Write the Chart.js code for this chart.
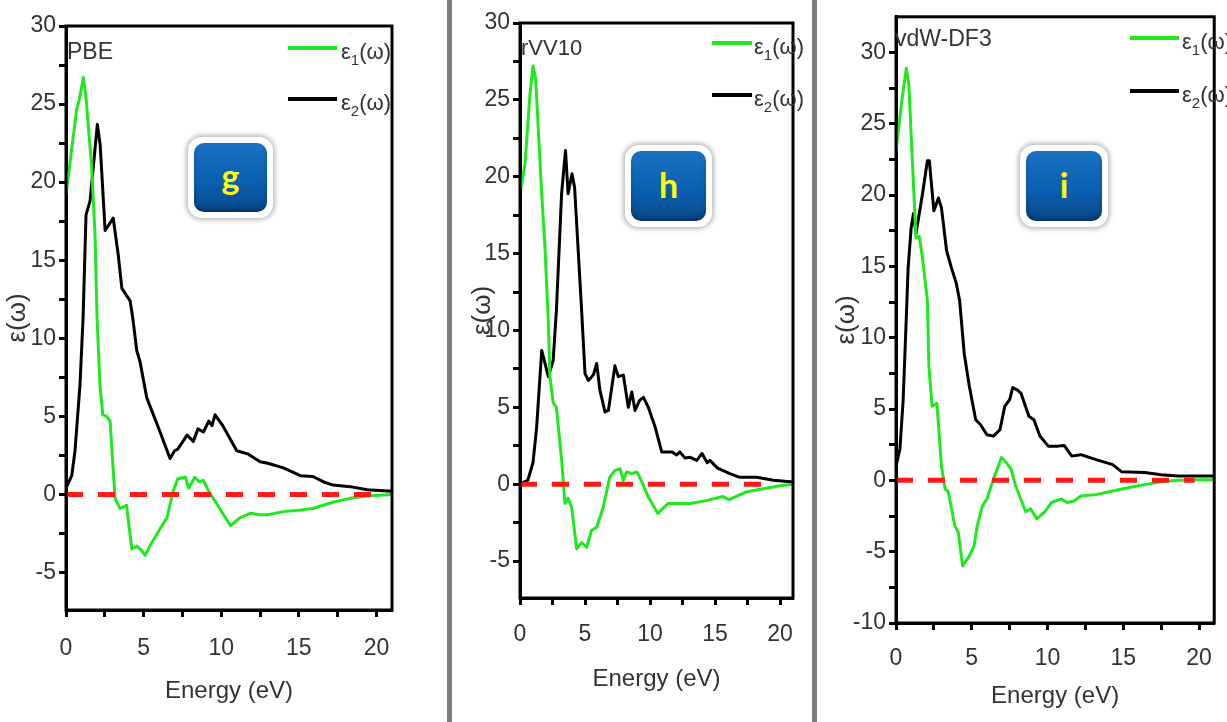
<!DOCTYPE html>
<html>
<head>
<meta charset="utf-8">
<script src="https://cdn.jsdelivr.net/npm/chart.js@4.4.1/dist/chart.umd.min.js"></script>
<style>
  html, body { margin: 0; padding: 0; background: #fff; }
  body { width: 1227px; height: 722px; position: relative; overflow: hidden;
         font-family: 'Liberation Sans Narrow', 'Arial Narrow', 'Liberation Sans', Arial, sans-serif; color: #333; }
  canvas { position: absolute; top: 0; }
  .sep { position: absolute; top: 0; height: 722px; width: 5px; background: #7c7c7c; }
  .tag { position: absolute; font-size: 23px; line-height: 23px; white-space: nowrap; }
  .ln { position: absolute; height: 4px; }
  .lg { position: absolute; font-size: 22px; line-height: 22px; white-space: nowrap; }
  .lg sub { font-size: 15px; vertical-align: -6px; line-height: 0; }
  .badge { position: absolute; background: #fff; border-radius: 14px;
           box-shadow: 0 0 5px 2px rgba(0,0,0,0.28); }
  .badge div { position: absolute; left: 6px; top: 6px; right: 6px; bottom: 6px; border-radius: 10px;
               background: linear-gradient(#1b71c2, #0a60b0 55%, #074a8c);
               box-shadow: inset 0 -4px 4px rgba(0,0,0,0.25);
               color: #ffff00; font: bold 34px Lato, 'Open Sans', sans-serif;
               display: flex; align-items: center; justify-content: center; padding-bottom: 4px; box-sizing: border-box; }
</style>
</head>
<body>
<canvas id="pbe" width="446" height="722" style="left:0"></canvas>
<canvas id="rvv" width="359" height="722" style="left:453px"></canvas>
<canvas id="vdw" width="405" height="722" style="left:822px"></canvas>

<div class="sep" style="left:447px"></div>
<div class="sep" style="left:812px"></div>

<div class="tag" style="left:67px;top:40px">PBE</div>
<div class="tag" style="left:521px;top:36px;font-size:22px">rVV10</div>
<div class="tag" style="left:895px;top:27px">vdW-DF3</div>

<div class="ln" style="left:288px;top:46px;width:49px;background:#1fe81f"></div>
<div class="ln" style="left:288px;top:97px;width:49px;background:#000"></div>
<div class="lg" style="left:341px;top:41px">ε<sub>1</sub>(ω)</div>
<div class="lg" style="left:341px;top:92px">ε<sub>2</sub>(ω)</div>

<div class="ln" style="left:712px;top:41px;width:40px;background:#1fe81f"></div>
<div class="ln" style="left:712px;top:93px;width:40px;background:#000"></div>
<div class="lg" style="left:754px;top:36px">ε<sub>1</sub>(ω)</div>
<div class="lg" style="left:754px;top:88px">ε<sub>2</sub>(ω)</div>

<div class="ln" style="left:1130px;top:36px;width:49px;background:#1fe81f"></div>
<div class="ln" style="left:1130px;top:89px;width:49px;background:#000"></div>
<div class="lg" style="left:1182px;top:31px">ε<sub>1</sub>(ω)</div>
<div class="lg" style="left:1182px;top:84px">ε<sub>2</sub>(ω)</div>

<div class="badge" style="left:188px;top:137px;width:85px;height:81px"><div>g</div></div>
<div class="badge" style="left:625px;top:145px;width:87px;height:82px"><div>h</div></div>
<div class="badge" style="left:1020px;top:145px;width:88px;height:82px"><div>i</div></div>

<script>
// tick positions (major every 5, minor every 2.5)
const xTicks = [0, 2.5, 5, 7.5, 10, 12.5, 15, 17.5, 20];
const yTicksShort = [-5, -2.5, 0, 2.5, 5, 7.5, 10, 12.5, 15, 17.5, 20, 22.5, 25, 27.5, 30];
const yTicksLong = [-10, -7.5, -5, -2.5, 0, 2.5, 5, 7.5, 10, 12.5, 15, 17.5, 20, 22.5, 25, 27.5, 30];

// dashed zero reference
const zeroX = [0, 19.7];
const zeroY = [0, 0];

// PBE
const pbeE1x = [0, 0.69, 0.84, 1.12, 1.29, 1.66, 1.87, 2.0, 2.19, 2.37, 2.62, 2.84, 3.16, 3.48, 3.9, 4.24, 4.56, 4.88, 5.1, 5.4, 6.06, 6.5, 6.9, 7.2, 7.7, 7.9, 8.3, 8.6, 8.85, 9.2, 10.6, 11.2, 11.9, 12.5, 13, 14, 15.1, 15.9, 17.2, 18.3, 19.4, 21];
const pbeE1y = [19.2, 24.7, 25.2, 26.7, 25.4, 20.9, 16.6, 11.3, 7.0, 5.1, 5.0, 4.7, -0.25, -0.9, -0.7, -3.5, -3.3, -3.6, -3.9, -3.3, -2.2, -1.5, 0.2, 1.0, 1.1, 0.4, 1.1, 0.8, 0.9, 0.2, -2.0, -1.5, -1.2, -1.3, -1.3, -1.1, -1.0, -0.9, -0.5, -0.25, -0.1, 0];
const pbeE2x = [0, 0.37, 0.58, 0.9, 1.1, 1.29, 1.55, 2.02, 2.2, 2.52, 3.04, 3.37, 3.6, 4.13, 4.3, 4.56, 4.77, 5.2, 6.06, 6.7, 7.0, 7.2, 7.8, 8.2, 8.5, 8.85, 9.2, 9.4, 9.6, 10.1, 11.0, 11.7, 12.5, 13, 14, 15.1, 15.9, 16.6, 17.2, 18.3, 19.4, 21];
const pbeE2y = [0.4, 1.2, 2.8, 7.0, 11.3, 17.9, 18.8, 23.7, 22.4, 16.9, 17.7, 15.3, 13.2, 12.4, 11.3, 9.2, 8.5, 6.2, 4.0, 2.3, 2.8, 2.9, 3.8, 3.4, 4.2, 4.0, 4.7, 4.4, 5.1, 4.4, 2.8, 2.6, 2.1, 2.0, 1.7, 1.2, 1.15, 0.8, 0.6, 0.5, 0.3, 0.2];

// rVV10
const rvvE1x = [0.08, 0.38, 0.77, 1.0, 1.2, 1.67, 1.92, 2.18, 2.3, 2.55, 2.8, 3.2, 3.46, 3.7, 3.97, 4.36, 4.74, 5.13, 5.5, 5.9, 6.4, 6.9, 7.3, 7.7, 7.95, 8.2, 8.6, 9.0, 9.4, 9.85, 10.6, 11.4, 12.7, 13.1, 14.4, 15.6, 16.1, 17.4, 18.7, 20, 21];
const rvvE1y = [19.3, 20.8, 25.4, 27.2, 26.4, 18.9, 15.4, 10.5, 7.0, 5.3, 5.0, 1.6, -1.25, -0.9, -1.5, -4.2, -3.8, -4.1, -3.0, -2.8, -1.5, 0.45, 0.9, 1.0, 0.26, 0.8, 0.7, 0.8, 0.1, -0.8, -1.9, -1.25, -1.25, -1.25, -1.05, -0.8, -1.0, -0.5, -0.3, -0.1, 0];
const rvvE2x = [0.08, 0.6, 1.0, 1.28, 1.67, 2.18, 2.55, 2.8, 3.2, 3.5, 3.7, 4.0, 4.2, 4.74, 5.0, 5.26, 5.64, 5.9, 6.15, 6.54, 6.8, 7.3, 7.56, 7.95, 8.33, 8.6, 8.85, 9.2, 9.5, 9.87, 10.4, 10.9, 11.7, 12.05, 12.3, 12.7, 13.1, 13.6, 14.0, 14.4, 14.6, 15.2, 16.1, 16.9, 18.2, 19.5, 21];
const rvvE2y = [0.05, 0.26, 1.4, 3.7, 8.7, 7.0, 8.05, 11.3, 18.9, 21.7, 18.9, 20.2, 19.3, 11.3, 7.2, 6.75, 7.1, 7.85, 6.1, 4.7, 4.8, 7.7, 7.0, 7.1, 5.0, 6.0, 4.8, 5.45, 5.65, 5.0, 3.7, 2.1, 2.1, 1.9, 2.1, 1.7, 1.75, 1.55, 2.0, 1.4, 1.55, 1.05, 0.7, 0.45, 0.45, 0.26, 0.15];

// vdW-DF3
const vdwE1x = [0, 0.36, 0.68, 0.85, 1.1, 1.32, 1.53, 1.75, 2.07, 2.17, 2.38, 2.7, 3.0, 3.24, 3.45, 3.88, 4.1, 4.4, 4.84, 5.15, 5.36, 5.7, 6.0, 6.43, 6.96, 7.28, 7.6, 7.9, 8.56, 8.88, 9.3, 9.83, 10.26, 10.9, 11.3, 11.75, 12.2, 13.2, 14.3, 15.4, 16.4, 17.5, 18.6, 20.2, 21];
const vdwE1y = [23.1, 26.4, 28.9, 27.7, 21.9, 17.0, 17.1, 15.6, 12.6, 8.0, 5.2, 5.4, 1.0, -0.6, -0.8, -3.2, -3.6, -6.0, -5.3, -4.6, -3.2, -1.8, -1.3, 0.07, 1.6, 1.25, 0.77, -0.4, -2.2, -2.0, -2.7, -2.2, -1.55, -1.3, -1.55, -1.45, -1.1, -1.0, -0.75, -0.5, -0.3, -0.1, 0, 0.05, 0.05];
const vdwE2x = [0, 0.26, 0.47, 0.68, 0.8, 1.0, 1.15, 1.32, 1.75, 2.07, 2.2, 2.5, 2.8, 3.0, 3.34, 3.66, 3.98, 4.2, 4.5, 4.84, 5.26, 5.58, 6.0, 6.43, 6.86, 7.18, 7.5, 7.7, 8.0, 8.25, 8.77, 9.1, 9.5, 10.05, 10.7, 11.1, 11.6, 12.2, 13.2, 14.3, 14.9, 16.4, 17.5, 18.6, 21];
const vdwE2y = [1.0, 2.2, 5.6, 11.4, 14.9, 17.7, 18.7, 17.3, 20.1, 22.4, 22.4, 18.9, 19.8, 19.1, 16.1, 14.9, 13.8, 12.6, 8.9, 6.6, 4.25, 3.9, 3.2, 3.1, 3.55, 5.2, 5.65, 6.5, 6.35, 6.1, 4.5, 4.25, 3.1, 2.4, 2.4, 2.45, 1.7, 1.8, 1.45, 1.1, 0.6, 0.55, 0.4, 0.3, 0.3];

const FONT = "'Liberation Sans Narrow', 'Arial Narrow', 'Liberation Sans', Arial, sans-serif";

const toPts = (xs, ys) => xs.map((x, i) => ({ x: x, y: ys[i] }));

// box round the plot area (top and right sides too)
const frame = {
    id: 'frame',
    afterDraw(chart) {
        const { ctx, chartArea: a } = chart;
        ctx.save();
        ctx.strokeStyle = '#000';
        ctx.lineWidth = 3;
        ctx.strokeRect(a.left, a.top, a.right - a.left, a.bottom - a.top);
        ctx.restore();
    }
};

function makePanel(id, p) {
    const ctx = document.getElementById(id).getContext('2d');
    return new Chart(ctx, {
        type: 'line',
        data: {
            datasets: [
                { label: 'zero', data: toPts(zeroX, zeroY), borderColor: '#ff1a1a', borderWidth: 5, borderDash: [17, 15] },
                { label: 'ε1(ω)', data: toPts(p.e1x, p.e1y), borderColor: '#1fe81f', borderWidth: 3 },
                { label: 'ε2(ω)', data: toPts(p.e2x, p.e2y), borderColor: '#000', borderWidth: 3 }
            ]
        },
        options: {
            responsive: false,
            animation: false,
            layout: { padding: { left: 0, right: p.padRight, top: p.padTop, bottom: 0 } },
            plugins: { legend: { display: false }, tooltip: { enabled: false } },
            elements: { point: { radius: 0 }, line: { tension: 0, borderJoinStyle: 'round' } },
            scales: {
                x: {
                    type: 'linear', min: 0, max: 21,
                    afterBuildTicks: s => { s.ticks = xTicks.map(v => ({ value: v })); },
                    afterFit: s => { s.height = p.xAxisH; },
                    grid: { drawOnChartArea: false, tickLength: 7, tickWidth: 3, tickColor: '#000' },
                    border: { color: '#000', width: 3 },
                    ticks: {
                        autoSkip: false, maxRotation: 0, padding: p.xTickPad, color: '#333',
                        font: { family: FONT, size: 23 },
                        callback: v => (v % 5 === 0 ? String(v) : '')
                    },
                    title: { display: true, text: 'Energy (eV)', color: '#333',
                             font: { family: FONT, size: 24 }, padding: { top: 0, bottom: p.xTitlePad } }
                },
                y: {
                    type: 'linear', min: p.yMin, max: p.yMax,
                    afterBuildTicks: s => { s.ticks = p.yTicks.map(v => ({ value: v })); },
                    afterFit: s => { s.width = p.yAxisW; },
                    grid: { drawOnChartArea: false, tickLength: 7, tickWidth: 3, tickColor: '#000' },
                    border: { color: '#000', width: 3 },
                    ticks: {
                        autoSkip: false, padding: 3, color: '#333',
                        font: { family: FONT, size: 23 },
                        callback: v => (v % 5 === 0 ? String(v) : '')
                    },
                    title: { display: true, text: 'ε(ω)', color: '#333',
                             font: { family: FONT, size: 26 }, padding: { top: p.yTitlePad, bottom: 0 } }
                }
            }
        },
        plugins: [frame]
    });
}

makePanel('pbe', {
    e1x: pbeE1x, e1y: pbeE1y, e2x: pbeE2x, e2y: pbeE2y,
    yMin: -7.4, yMax: 30, yTicks: yTicksShort,
    padTop: 26, padRight: 54, yAxisW: 66, xAxisH: 112,
    xTickPad: 18, xTitlePad: 16, yTitlePad: 2
});

makePanel('rvv', {
    e1x: rvvE1x, e1y: rvvE1y, e2x: rvvE2x, e2y: rvvE2y,
    yMin: -7.4, yMax: 30, yTicks: yTicksShort,
    padTop: 23, padRight: 19, yAxisW: 67, xAxisH: 124,
    xTickPad: 16, xTitlePad: 28, yTitlePad: 14
});

makePanel('vdw', {
    e1x: vdwE1x, e1y: vdwE1y, e2x: vdwE2x, e2y: vdwE2y,
    yMin: -10, yMax: 32.5, yTicks: yTicksLong,
    padTop: 15, padRight: 3, yAxisW: 74, xAxisH: 99,
    xTickPad: 15, xTitlePad: 11, yTitlePad: 9
});
</script>
</body>
</html>
